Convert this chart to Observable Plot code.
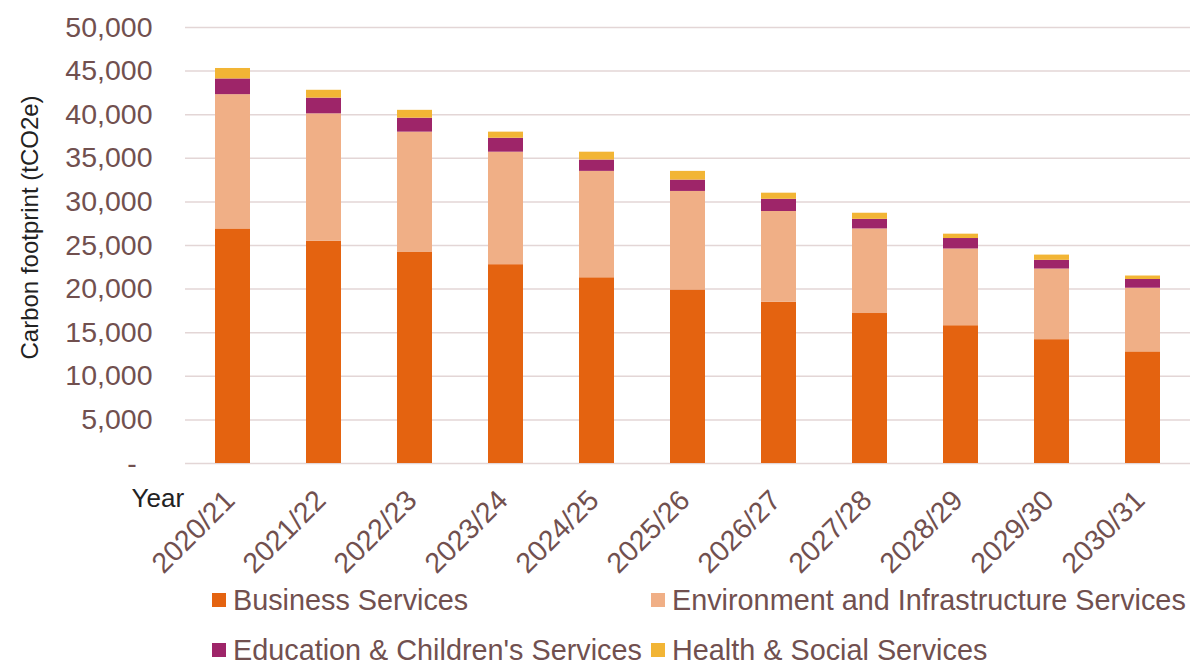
<!DOCTYPE html>
<html><head><meta charset="utf-8">
<script src="https://cdn.jsdelivr.net/npm/d3@7"></script>
<script src="https://cdn.jsdelivr.net/npm/@observablehq/plot@0.6"></script>
<style>
body{margin:0;background:#fff;font-family:"Liberation Sans",Arial,sans-serif;width:1195px;height:665px;overflow:hidden;position:relative}
#legend{position:absolute;left:212px;top:575px;display:grid;grid-template-columns:439px auto;grid-auto-rows:50px;font-size:28.8px;color:#71504f;}
.item{display:flex;align-items:center;white-space:nowrap}
.sw{width:14px;height:14px;margin-right:7px;display:inline-block;flex:none}
</style></head><body>
<div id="chart"></div><div id="legend"></div>
<script>
const years = ["2020/21","2021/22","2022/23","2023/24","2024/25","2025/26","2026/27","2027/28","2028/29","2029/30","2030/31"];
const seriesNames = ["Business Services","Environment and Infrastructure Services","Education & Children's Services","Health & Social Services"];
const seriesColors = ["#e46310","#f0af86","#9e2569","#f2b535"];
const business    = [26900,25500,24200,22800,21300,19900,18500,17200,15800,14200,12800];
const environment = [15400,14600,13800,12900,12200,11300,10400, 9700, 8800, 8100, 7300];
const education   = [ 1800, 1800, 1600, 1600, 1300, 1300, 1400, 1100, 1200, 1000, 1000];
const health      = [ 1200,  900,  900,  700,  900, 1000,  700,  700,  500,  600,  400];
const yTicks = [0,5000,10000,15000,20000,25000,30000,35000,40000,45000,50000];

const seriesValues = [business, environment, education, health];
const data = [];
seriesNames.forEach((s, si) => years.forEach((y, i) => data.push({year: y, series: s, value: seriesValues[si][i]})));

const grid = "#e3d6d6";
const chart = Plot.plot({
  width: 1195, height: 590,
  marginTop: 27, marginBottom: 127, marginLeft: 185, marginRight: 5,
  style: {fontFamily: "Liberation Sans, Arial, sans-serif", fontSize: "28px", color: "#71504f", background: "transparent"},
  x: {domain: years, paddingInner: 0.617, paddingOuter: 0.317, label: null},
  y: {domain: [0, 50000], label: null},
  color: {domain: seriesNames, range: seriesColors},
  marks: [
    Plot.gridY(yTicks, {stroke: grid, strokeOpacity: 1, strokeWidth: 1.5}),
    Plot.axisY(yTicks, {tickSize: 0, tickPadding: 33, fontSize: 28.5, label: null,
      tickFormat: d => d === 0 ? "-\u00a0\u00a0" : d3.format(",")(d)}),
    Plot.axisX({tickSize: 0, tickRotate: -45, tickPadding: 32, dx: -3, fontSize: 28.5, label: null}),
    Plot.barY(data, {x: "year", y: "value", fill: "series"}),
    Plot.text(["Year"], {text: d => d, frameAnchor: "bottom-left", textAnchor: "start", dx: -54, dy: 43, fontSize: 26, fill: "#222"}),
    Plot.text(["Carbon footprint (tCO2e)"], {text: d => d, frameAnchor: "left", rotate: -90, dx: -155, dy: 114, fontSize: 24, fill: "#222"})
  ]
});
document.getElementById("chart").append(chart);

const legend = document.getElementById("legend");
seriesNames.forEach((s, i) => {
  const item = document.createElement("div");
  item.className = "item";
  const sw = document.createElement("span");
  sw.className = "sw";
  sw.style.background = seriesColors[i];
  item.append(sw, document.createTextNode(s));
  legend.append(item);
});
</script></body></html>
